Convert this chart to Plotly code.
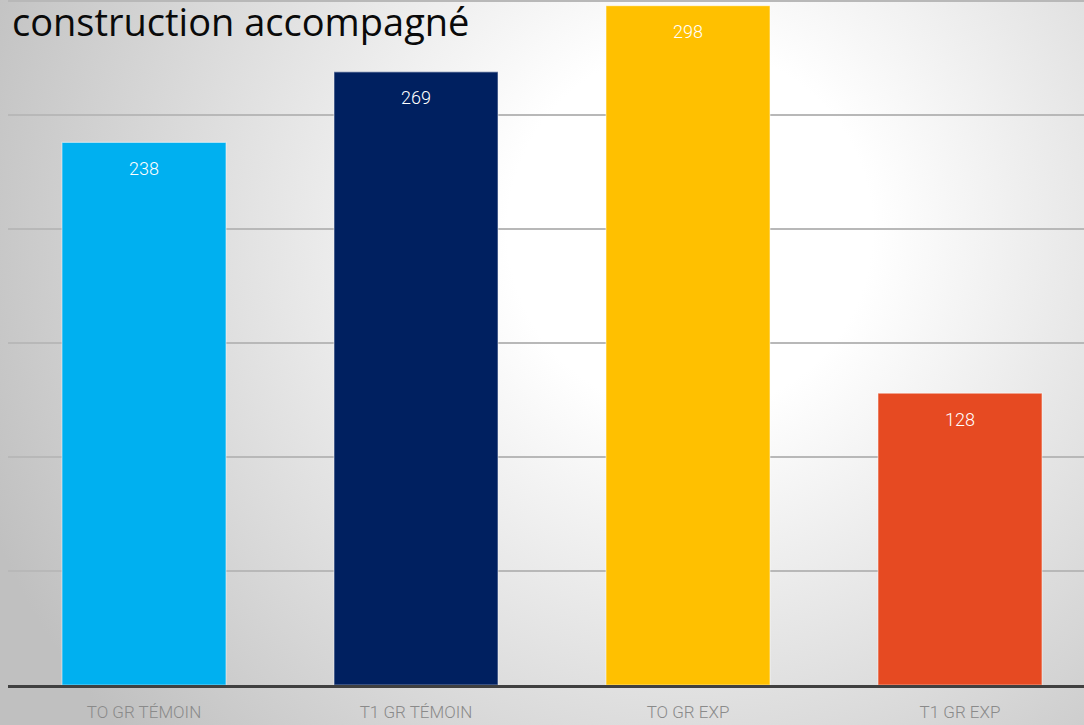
import plotly.graph_objects as go

# Chart data
categories = ["TO GR TÉMOIN", "T1 GR TÉMOIN", "TO GR EXP", "T1 GR EXP"]
values = [238, 269, 298, 128]
bar_colors = ["#00B0F0", "#002060", "#FFC000", "#E64A22"]
title_text = "construction accompagné"

W, H = 1084, 725
PLOT_LEFT = 8
PLOT_BOTTOM = 40
PLOT_H = H - PLOT_BOTTOM

# Soft radial backdrop drawn as an inline SVG
bg_svg = (
    "<svg xmlns='http://www.w3.org/2000/svg' width='1084' height='725' preserveAspectRatio='none'>"
    "<defs><radialGradient id='g' gradientUnits='userSpaceOnUse' cx='690' cy='230' r='760'>"
    "<stop offset='0' stop-color='#ffffff'/>"
    "<stop offset='0.24' stop-color='#ffffff'/>"
    "<stop offset='1' stop-color='#c0c0c0'/>"
    "</radialGradient></defs>"
    "<rect width='1084' height='725' fill='url(#g)'/></svg>"
)
bg_uri = "data:image/svg+xml;charset=utf-8," + (
    bg_svg.replace("#", "%23").replace("<", "%3C").replace(">", "%3E")
    .replace("'", "%27").replace(" ", "%20")
)

thin = "Roboto, Liberation Sans, sans-serif"

fig = go.Figure()
fig.add_trace(go.Bar(
    x=list(range(len(categories))),
    y=values,
    width=0.603,
    marker=dict(color=bar_colors, line=dict(color="rgba(255,255,255,0.45)", width=1.2)),
    hoverinfo="skip",
))

# value labels just under the top of each bar
for i, v in enumerate(values):
    fig.add_annotation(
        x=i, y=v, xref="x", yref="y", text=str(v), showarrow=False,
        yanchor="middle", yshift=-26,
        font=dict(family=thin, size=18, color="#ffffff", weight=300),
    )

fig.add_annotation(
    x=10 / W, y=1, xref="paper", yref="paper", xanchor="left", yanchor="top",
    yshift=7, text=title_text, showarrow=False,
    font=dict(family="Open Sans, Noto Sans, sans-serif", size=38, color="#0a0a0a"),
)

fig.update_layout(
    width=W, height=H,
    margin=dict(l=0, r=0, t=0, b=PLOT_BOTTOM, pad=0),
    paper_bgcolor="rgba(0,0,0,0)",
    plot_bgcolor="rgba(0,0,0,0)",
    showlegend=False,
    images=[dict(source=bg_uri, xref="paper", yref="paper", x=0, y=1,
                 sizex=1, sizey=H / PLOT_H, xanchor="left", yanchor="top",
                 sizing="stretch", layer="below")],
    xaxis=dict(
        domain=[PLOT_LEFT / W, 1],
        range=[-0.5, -0.5 + (W - PLOT_LEFT) / 272],
        tickmode="array", tickvals=list(range(len(categories))), ticktext=categories,
        tickfont=dict(family=thin, size=17, color="#8a8a8a", weight=300),
        ticklabelstandoff=10,
        ticks="", showgrid=False, zeroline=False,
        showline=True, linecolor="#404040", linewidth=3,
        fixedrange=True,
    ),
    yaxis=dict(
        range=[0, 300.5],
        tickvals=[50, 100, 150, 200, 250, 300],
        showticklabels=False, ticks="",
        showgrid=True, gridcolor="#b8b8b8", gridwidth=2,
        zeroline=False, showline=False, fixedrange=True,
    ),
)

fig.write_html("out.html")
